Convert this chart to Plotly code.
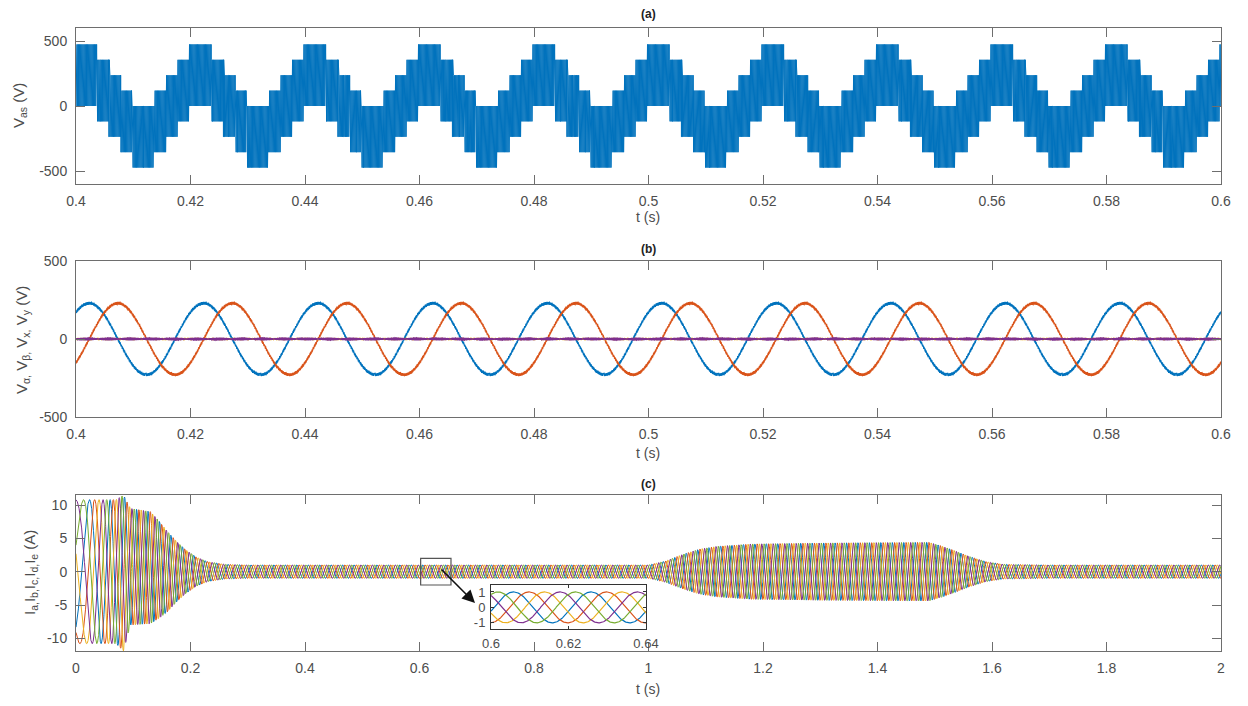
import numpy as np
import plotly.graph_objects as go

# The page body has an 8 px margin, so the figure is 8 px smaller and all pixel
# positions below are shifted by that offset.
OFF = 8
W, H = 1248 - OFF, 706 - OFF

def px(x):
    return (x - OFF) / W

def py(y):
    return 1 - (y - OFF) / H

# ---------------- panel (a): V_as, multilevel PWM phase voltage ----------------
a_t_range = [0.4, 0.6]
a_fund_period = 0.02                 # 50 Hz fundamental
a_pwm_period = 1e-4                  # switching period (s)
# staircase of the upper envelope within one fundamental period
a_step_start = [0.0, 0.0036, 0.0058, 0.0078, 0.0097, 0.0137, 0.0157, 0.0178, 0.0198]
a_step_level = [4, 3, 2, 1, 0, 1, 2, 3, 4]
a_level_volts = 118.5                # voltage of one level step (V)

# ---------------- panel (b): alpha-beta / x-y voltages ----------------
b_t_range = [0.4, 0.6]
b_amp = 229.0                        # V
b_freq = 50.0                        # Hz
b_alpha_peak = 0.4023                # time of a V_alpha peak (s)
b_beta_lag = 0.005                   # V_beta lags V_alpha by a quarter period (s)
b_ripple = 9.0                       # switching ripple on V_alpha, V_beta (V)
b_vx_ripple = 4.0                    # ripple on V_x (V)
b_vy_ripple = 9.0                    # ripple on V_y (V)

# ---------------- panel (c): five phase currents ----------------
c_t_range = [0, 2]
c_freq_t = [0.0, 0.1, 2.0]
c_freq_hz = [12.0, 50.0, 50.0]
c_env_t = [0.0, 0.07, 0.083, 0.095, 0.13, 0.145, 0.16, 0.175, 0.19, 0.21, 0.23, 0.26, 0.3,
           1.0, 1.03, 1.06, 1.09, 1.12, 1.18, 1.3, 1.49, 1.51, 1.53, 1.56, 1.59, 1.62, 1.7, 2.0]
c_env_hi = [10.8, 10.8, 11.5, 9.5, 9.0, 7.6, 6.0, 4.6, 3.4, 2.2, 1.5, 1.1, 1.0,
            1.0, 1.6, 2.6, 3.4, 3.8, 4.15, 4.3, 4.4, 3.9, 3.3, 2.3, 1.5, 1.1, 1.0, 1.0]
c_env_lo = [-10.8, -10.8, -11.9, -8.0, -7.8, -7.0, -6.0, -4.6, -3.4, -2.2, -1.5, -1.1, -1.0,
            -1.0, -1.6, -2.6, -3.4, -3.8, -4.15, -4.3, -4.4, -3.9, -3.3, -2.3, -1.5, -1.1, -1.0, -1.0]
c_names = ["I<sub>a</sub>", "I<sub>b</sub>", "I<sub>c</sub>", "I<sub>d</sub>", "I<sub>e</sub>"]
c_inset_range = [0.6, 0.64]
c_zoom_box = [0.602, 0.655, -2.0, 2.0]
c_blue_peak_in_inset = 0.6058

# ---------------- tick labels ----------------
ab_tickvals = [0.4, 0.42, 0.44, 0.46, 0.48, 0.5, 0.52, 0.54, 0.56, 0.58, 0.6]
ab_ticktext = ["0.4", "0.42", "0.44", "0.46", "0.48", "0.5", "0.52", "0.54", "0.56", "0.58", "0.6"]
c_tickvals = [0, 0.2, 0.4, 0.6, 0.8, 1.0, 1.2, 1.4, 1.6, 1.8, 2.0]
c_ticktext = ["0", "0.2", "0.4", "0.6", "0.8", "1", "1.2", "1.4", "1.6", "1.8", "2"]
v_ytickvals = [-500, 0, 500]
v_yticktext = ["-500", "0", "500"]
c_ytickvals = [-10, -5, 0, 5, 10]
c_yticktext = ["-10", "-5", "0", "5", "10"]
inset_xtickvals = [0.6, 0.62, 0.64]
inset_xticktext = ["0.6", "0.62", "0.64"]
inset_ytickvals = [-1, 0, 1]
inset_yticktext = ["-1", "0", "1"]

MBLUE, MORANGE, MYELLOW, MPURPLE, MGREEN = "#0072BD", "#D95319", "#EDB120", "#7E2F8E", "#77AC30"
c_colors = [MBLUE, MORANGE, MYELLOW, MPURPLE, MGREEN]

# ---------- build waveforms ----------
# (a)
ta = np.arange(a_t_range[0], a_t_range[1] + 1e-9, a_pwm_period / 4)
starts = np.array(a_step_start)
levels = np.array(a_step_level)

def upper_env(t):
    ph = np.mod(t - a_t_range[0], a_fund_period)
    idx = np.searchsorted(starts, ph, side="right") - 1
    return levels[idx] * a_level_volts

top = upper_env(ta)
bot = -upper_env(ta - a_fund_period / 2)
k = np.arange(len(ta))
va = np.where((k % 4) < 2, top, bot)

# (b)
tb = np.arange(b_t_range[0], b_t_range[1] + 1e-9, 2.5e-5)
w = 2 * np.pi * b_freq
valpha = b_amp * np.cos(w * (tb - b_alpha_peak)) + b_ripple * np.sin(2 * np.pi * 9000 * tb)
vbeta = b_amp * np.cos(w * (tb - b_alpha_peak - b_beta_lag)) + b_ripple * np.sin(2 * np.pi * 9000 * tb + 1.3)
vx = b_vx_ripple * np.sin(2 * np.pi * 5100 * tb)
vy = b_vy_ripple * np.sin(2 * np.pi * 7300 * tb) * (0.45 + 0.55 * np.abs(np.sin(2 * np.pi * 130 * tb)))

# (c)
tc = np.linspace(c_t_range[0], c_t_range[1], 12001)
dt = tc[1] - tc[0]
fc = np.interp(tc, c_freq_t, c_freq_hz)
theta = 2 * np.pi * np.concatenate([[0.0], np.cumsum(0.5 * (fc[1:] + fc[:-1]) * dt)])
hi = np.interp(tc, c_env_t, c_env_hi)
lo = np.interp(tc, c_env_t, c_env_lo)
cen = (hi + lo) / 2
amp = (hi - lo) / 2
i06 = np.argmin(np.abs(tc - c_inset_range[0]))
phi0 = -theta[i06] - 2 * np.pi * 50 * (c_blue_peak_in_inset - c_inset_range[0])
currents = [cen + amp * np.cos(theta + phi0 - n * 2 * np.pi / 5) for n in range(5)]
mask = (tc >= c_inset_range[0]) & (tc <= c_inset_range[1])

# ---------- figure ----------
fig = go.Figure()
fig.add_trace(go.Scatter(x=ta, y=va, mode="lines", line=dict(color=MBLUE, width=1),
                         xaxis="x", yaxis="y", name="V<sub>as</sub>"))
for y, col, nm in [(valpha, MBLUE, "V<sub>α</sub>"), (vbeta, MORANGE, "V<sub>β</sub>"),
                   (vx, MYELLOW, "V<sub>x</sub>"), (vy, MPURPLE, "V<sub>y</sub>")]:
    fig.add_trace(go.Scatter(x=tb, y=y, mode="lines", line=dict(color=col, width=1.2),
                             xaxis="x2", yaxis="y2", name=nm))
for cur, col, nm in zip(currents, c_colors, c_names):
    fig.add_trace(go.Scatter(x=tc, y=cur, mode="lines", line=dict(color=col, width=1),
                             xaxis="x3", yaxis="y3", name=nm))
for cur, col, nm in zip(currents, c_colors, c_names):
    fig.add_trace(go.Scatter(x=tc[mask], y=cur[mask], mode="lines", line=dict(color=col, width=1.2),
                             xaxis="x4", yaxis="y4", name=nm, showlegend=False))

AX = "#6e6e6e"
TXT = "#4d4d4d"
FONT = "Liberation Sans, Arial, sans-serif"

def xax(dom, rng, tv, tt, anchor, ticklen=9, size=14):
    return dict(domain=dom, range=rng, tickvals=tv, ticktext=tt, anchor=anchor, automargin=False,
                showline=True, linecolor=AX, linewidth=1, mirror="ticks", ticks="inside",
                ticklen=ticklen, tickcolor=AX, showgrid=False, zeroline=False,
                tickfont=dict(size=size, color=TXT, family=FONT), ticklabelstandoff=4)

def yax(dom, rng, tv, tt, anchor, ticklen=9, size=14):
    return dict(domain=dom, range=rng, tickvals=tv, ticktext=tt, anchor=anchor, automargin=False,
                showline=True, linecolor=AX, linewidth=1, mirror="ticks", ticks="inside",
                ticklen=ticklen, tickcolor=AX, showgrid=False, zeroline=False,
                tickfont=dict(size=size, color=TXT, family=FONT), ticklabelstandoff=5)

xd = [px(76), px(1221)]
fig.update_layout(
    width=W, height=H, autosize=False, showlegend=False,
    margin=dict(l=0, r=0, t=0, b=0),
    paper_bgcolor="white", plot_bgcolor="white",
    font=dict(family=FONT, color=TXT),
    xaxis=xax(xd, a_t_range, ab_tickvals, ab_ticktext, "y"),
    yaxis=yax([py(184), py(28)], [-600, 600], v_ytickvals, v_yticktext, "x"),
    xaxis2=xax(xd, b_t_range, ab_tickvals, ab_ticktext, "y2"),
    yaxis2=yax([py(417), py(261)], [-500, 500], v_ytickvals, v_yticktext, "x2"),
    xaxis3=xax(xd, c_t_range, c_tickvals, c_ticktext, "y3"),
    yaxis3=yax([py(651), py(495)], [-11.9, 11.5], c_ytickvals, c_yticktext, "x3"),
    xaxis4=xax([px(491), px(646)], c_inset_range, inset_xtickvals, inset_xticktext, "y4", ticklen=3, size=13),
    yaxis4=yax([py(629), py(585)], [-1.4, 1.45], inset_ytickvals, inset_yticktext, "x4", ticklen=3, size=13),
)
fig.update_layout(xaxis4=dict(linecolor="#333333", tickcolor="#333333", ticklabelstandoff=2),
                  yaxis4=dict(linecolor="#333333", tickcolor="#333333", ticklabelstandoff=2))

cx = px(648.5)
ann = []
for txt, yy in [("<b>(a)</b>", 14), ("<b>(b)</b>", 249), ("<b>(c)</b>", 484)]:
    ann.append(dict(text=txt, x=cx, y=py(yy), xref="paper", yref="paper", showarrow=False,
                    xanchor="center", yanchor="middle", font=dict(size=12, color="#222222", family=FONT)))
for yy in [217, 453, 689]:
    ann.append(dict(text="t (s)", x=cx, y=py(yy), xref="paper", yref="paper", showarrow=False,
                    xanchor="center", yanchor="middle", font=dict(size=14, color=TXT, family=FONT)))
ann.append(dict(text="V<sub>as</sub> (V)", x=px(20), y=py(106), xref="paper", yref="paper",
                showarrow=False, textangle=-90, xanchor="center", yanchor="middle",
                font=dict(size=15, color=TXT, family=FONT)))
ann.append(dict(text="V<sub>α,</sub> V<sub>β,</sub> V<sub>x,</sub> V<sub>y</sub> (V)", x=px(23), y=py(340),
                xref="paper", yref="paper", showarrow=False, textangle=-90, xanchor="center",
                yanchor="middle", font=dict(size=15, color=TXT, family=FONT)))
ann.append(dict(text="I<sub>a,</sub>I<sub>b,</sub>I<sub>c,</sub>I<sub>d,</sub>I<sub>e</sub> (A)", x=px(30),
                y=py(573), xref="paper", yref="paper", showarrow=False, textangle=-90,
                xanchor="center", yanchor="middle", font=dict(size=15, color=TXT, family=FONT)))
# arrow from zoom box to inset
ann.append(dict(text="", x=(475 - 76) / 572.5, y=(571.7 - 603) / 6.65, xref="x3", yref="y3",
                ax=-35, ay=-35, showarrow=True, arrowhead=2, arrowsize=1.6, arrowwidth=1.6,
                arrowcolor="#111111"))
fig.update_layout(annotations=ann)

fig.add_shape(type="rect", xref="x3", yref="y3", x0=c_zoom_box[0], x1=c_zoom_box[1],
              y0=c_zoom_box[2], y1=c_zoom_box[3], line=dict(color="#555555", width=1.2))

fig.write_html("out.html")
